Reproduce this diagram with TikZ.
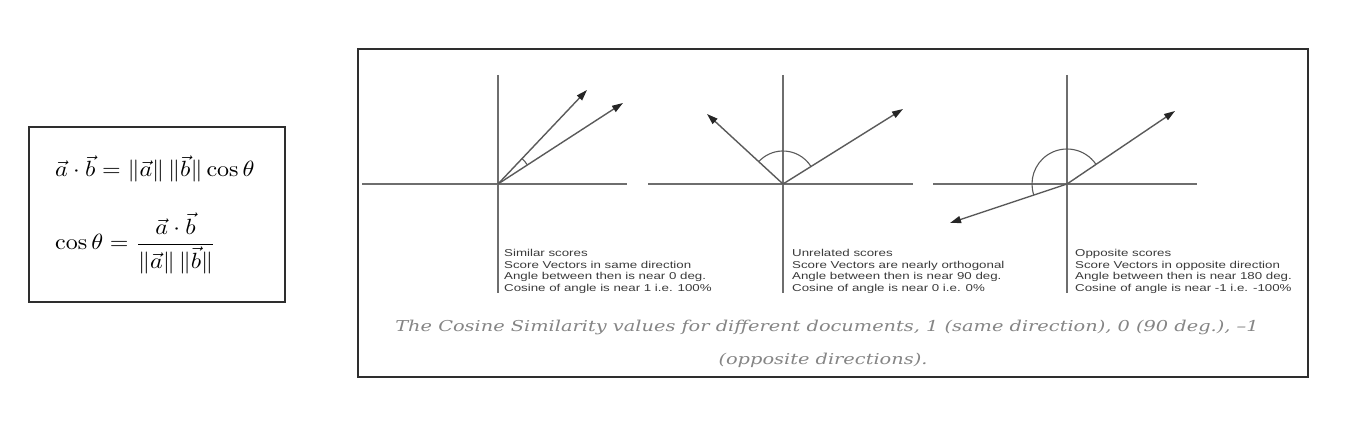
\documentclass[tikz,border=0pt]{standalone}
\usepackage{amsmath}
\usepackage{fontspec}
\newfontfamily\panelfont[FakeStretch=1.33]{Liberation Sans}
\newfontfamily\capfont[FakeStretch=1.29]{DejaVu Serif}
\usetikzlibrary{arrows.meta}
\definecolor{axisgray}{HTML}{6E6E6E}
\definecolor{vecgray}{HTML}{5A5A5A}
\definecolor{txtgray}{HTML}{3A3A3A}
\definecolor{capgray}{HTML}{858585}
\definecolor{frame}{HTML}{2E2E2E}
\begin{document}
\begin{tikzpicture}[x=1pt,y=1pt,
  framebox/.style={draw=frame,line width=1.3pt},
  axis/.style={draw=axisgray,line width=1.2pt},
  vec/.style={draw=vecgray,line width=1.4pt,-{Triangle[length=11pt,width=7pt]},arrows={[fill=black!85,color=black!85]}},
  anglearc/.style={draw=vecgray,line width=1.1pt},
  paneltext/.style={anchor=base west,inner sep=0pt,text=txtgray,font=\panelfont\fontsize{10}{11}\selectfont},
  captext/.style={inner sep=0pt,text=capgray,font=\capfont\itshape\fontsize{15}{18}\selectfont},
  formula/.style={anchor=base west,inner sep=0pt}
]
\useasboundingbox (0,0) rectangle (1345,447);
% left formula box
\draw[framebox] (29,145) rectangle (285,320);
\node[formula] (f1) at (55,270) {\scalebox{2.4}[2.2]{$\vec{a}\cdot\vec{b}=\|\vec{a}\|\,\|\vec{b}\|\cos\theta$}};
\node[formula] (f2) at (55,197.5) {\scalebox{2.4}[2.2]{$\displaystyle\cos\theta=\frac{\vec{a}\cdot\vec{b}}{\|\vec{a}\|\,\|\vec{b}\|}$}};
% main box
\draw[framebox] (358,70) rectangle (1308,398);
% panel 1
\coordinate (O1) at (498,263);
\coordinate (v1t) at (498,372); \coordinate (v1b) at (498,154);
\coordinate (h1l) at (362,263); \coordinate (h1r) at (627,263);
\draw[axis] (v1t) -- (v1b);
\draw[axis] (h1l) -- (h1r);
\coordinate (A1) at (587,357);
\coordinate (B1) at (623,344);
\draw[vec] (O1) -- (A1);
\draw[vec] (O1) -- (B1);
\draw[anglearc] ([shift={(33:35)}]O1) arc[start angle=33,end angle=46.6,radius=35];
\node[paneltext] (t1a) at (504,190) {Similar scores};
\node[paneltext] (t1b) at (504,178.5) {Score Vectors in same direction};
\node[paneltext] (t1c) at (504,167) {Angle between then is near 0 deg.};
\node[paneltext] (t1d) at (504,155.5) {Cosine of angle is near 1 i.e. 100\%};
% panel 2
\coordinate (O2) at (783,263);
\coordinate (v2t) at (783,372); \coordinate (v2b) at (783,154);
\coordinate (h2l) at (648,263); \coordinate (h2r) at (913,263);
\draw[axis] (v2t) -- (v2b);
\draw[axis] (h2l) -- (h2r);
\coordinate (A2) at (707,333);
\coordinate (B2) at (903,338);
\draw[vec] (O2) -- (A2);
\draw[vec] (O2) -- (B2);
\draw[anglearc] ([shift={(32:33)}]O2) arc[start angle=32,end angle=137.4,radius=33];
\node[paneltext] (t2a) at (792,190) {Unrelated scores};
\node[paneltext] (t2b) at (792,178.5) {Score Vectors are nearly orthogonal};
\node[paneltext] (t2c) at (792,167) {Angle between then is near 90 deg.};
\node[paneltext] (t2d) at (792,155.5) {Cosine of angle is near 0 i.e. 0\%};
% panel 3
\coordinate (O3) at (1067,263);
\coordinate (v3t) at (1067,372); \coordinate (v3b) at (1067,154);
\coordinate (h3l) at (933,263); \coordinate (h3r) at (1197,263);
\draw[axis] (v3t) -- (v3b);
\draw[axis] (h3l) -- (h3r);
\coordinate (A3) at (1175,336);
\coordinate (B3) at (950,224);
\draw[vec] (O3) -- (A3);
\draw[vec] (O3) -- (B3);
\draw[anglearc] ([shift={(34:35)}]O3) arc[start angle=34,end angle=198.4,radius=35];
\node[paneltext] (t3a) at (1075,190) {Opposite scores};
\node[paneltext] (t3b) at (1075,178.5) {Score Vectors in opposite direction};
\node[paneltext] (t3c) at (1075,167) {Angle between then is near 180 deg.};
\node[paneltext] (t3d) at (1075,155.5) {Cosine of angle is near -1 i.e. -100\%};
% caption
\node[captext] (c1) at (827,120) {The Cosine Similarity values for different documents, 1 (same direction), 0 (90 deg.), –1};
\node[captext] (c2) at (823,87) {(opposite directions).};
\end{tikzpicture}
\end{document}
